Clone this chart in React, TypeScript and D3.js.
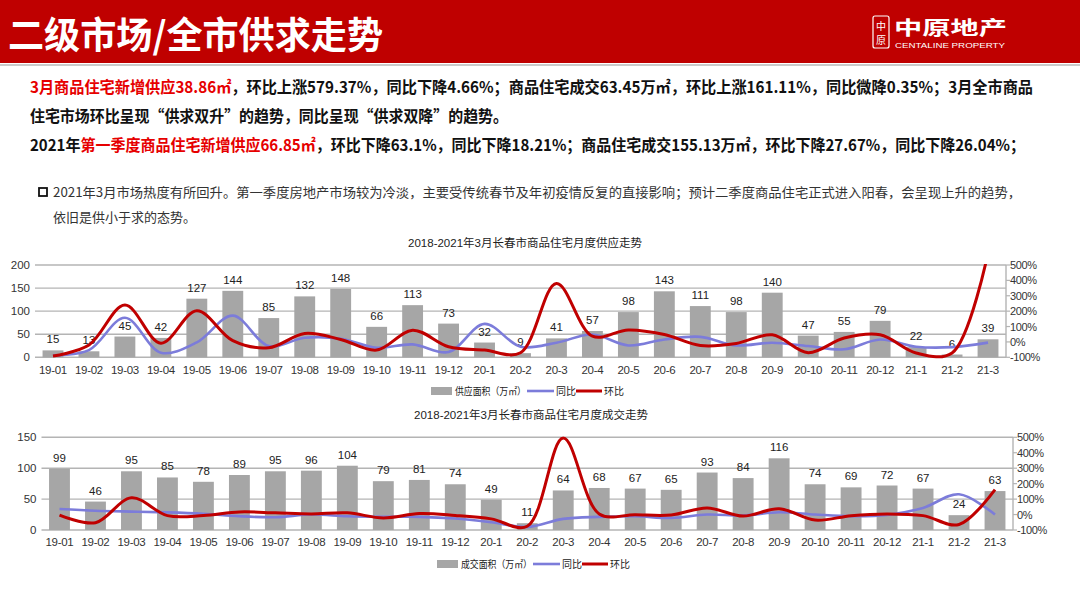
import React from "react";
import * as d3 from "d3";

const categories = [
  "19-01", "19-02", "19-03", "19-04", "19-05", "19-06", "19-07", "19-08", "19-09",
  "19-10", "19-11", "19-12", "20-1", "20-2", "20-3", "20-4", "20-5", "20-6", "20-7",
  "20-8", "20-9", "20-10", "20-11", "20-12", "21-1", "21-2", "21-3",
];

// 供应面积（万㎡）
const supplyArea = [15, 13, 45, 42, 127, 144, 85, 132, 148, 66, 113, 73, 32, 9, 41, 57, 98, 143, 111, 98, 140, 47, 55, 79, 22, 6, 39];
// 供应 同比 (%)
const supplyYoY = [-88, -53, 157, -70, -3, 171, -27, 27, 21, -38, -16, -66, 117, -31, -5, 48, -23, 16, 33, -23, -5, -27, -48, 16, -31, -34, -4.66];
// 供应 环比 (%)
const supplyMoM = [-92, -20, 240, -8, 203, 8, -38, 55, 16, -53, 76, -31, -53, -70, 380, 37, 78, 48, -23, -10, 46, -70, 25, 46, -72, -72, 579.37];

// 成交面积（万㎡）
const dealArea = [99, 46, 95, 85, 78, 89, 95, 96, 104, 79, 81, 74, 49, 11, 64, 68, 67, 65, 93, 84, 116, 74, 69, 72, 67, 24, 63];
// 成交 同比 (%)
const dealYoY = [36, 25, 19, 14, 5, -11, -17, 0, -11, -15, -15, -26, -50, -80, -28, -15, -11, -22, 0, -6, 15, 0, -11, -3, 43, 131, -0.35];
// 成交 环比 (%)
const dealMoM = [-3, -53, 109, -7, -6, 17, 11, 4, 11, -22, 6, -6, -28, -76, 495, 4, -1, -3, 43, -10, 38, -36, -7, 4, -7, -64, 161.11];

const supplyTicks = [0, 50, 100, 150, 200];
const dealTicks = [0, 50, 100, 150];
const pctTicks = [-100, 0, 100, 200, 300, 400, 500];

const RED = "#C00000";
const BLUE = "#7C7CDA";
const BAR = "#A6A6A6";
const GRID = "#B4B4B4";
const TXT = "#333333";
const NUMFONT = "'Liberation Sans', Arial, 'Noto Sans CJK SC', sans-serif";
const CJK = "'Noto Sans CJK SC', 'Liberation Sans', sans-serif";

type ChartProps = {
  clipId: string;
  title: string;
  titleX: number;
  titleY: number;
  x0: number;
  x1: number;
  yTop: number;
  yBot: number;
  leftMax: number;
  leftTicks: number[];
  bars: number[];
  yoy: number[];
  mom: number[];
  catY: number;
  legendText: string;
  legendX: number;
  legendY: number;
};

function ComboChart(p: ChartProps) {
  const x = d3
    .scaleBand<string>()
    .domain(categories)
    .range([p.x0, p.x1])
    .paddingInner(0.42)
    .paddingOuter(0.21);
  const yL = d3.scaleLinear().domain([0, p.leftMax]).range([p.yBot, p.yTop]);
  const yR = d3.scaleLinear().domain([-100, 500]).range([p.yBot, p.yTop]);
  const cx = (i: number) => (x(categories[i]) as number) + x.bandwidth() / 2;
  const lineGen = d3
    .line<number>()
    .x((_d, i) => cx(i))
    .y((d) => yR(d))
    .curve(d3.curveCatmullRom.alpha(0.5));

  const lx = p.legendX;
  const ly = p.legendY;

  return (
    <g>
      <text
        x={p.titleX}
        y={p.titleY}
        textAnchor="middle"
        fontFamily={NUMFONT}
        fontSize={11.5}
        fill="#222"
      >
        {p.title}
      </text>
      <defs>
        <clipPath id={p.clipId}>
          <rect x={p.x0} y={p.yTop - 1} width={p.x1 - p.x0} height={p.yBot - p.yTop + 4} />
        </clipPath>
      </defs>
      {p.leftTicks.map((t) => (
        <g key={"g" + t}>
          <line x1={p.x0} x2={p.x1} y1={yL(t)} y2={yL(t)} stroke={GRID} strokeWidth={1.4} />
          <text
            x={p.x0 - 5}
            y={yL(t) + 4}
            textAnchor="end"
            fontFamily={NUMFONT}
            fontSize={11.5}
            fill={TXT}
          >
            {t}
          </text>
        </g>
      ))}
      <line x1={p.x1} x2={p.x1} y1={p.yTop} y2={p.yBot} stroke={GRID} strokeWidth={1.4} />
      {pctTicks.map((t) => (
        <g key={"r" + t}>
          <line x1={p.x1} x2={p.x1 + 4} y1={yR(t)} y2={yR(t)} stroke={GRID} strokeWidth={1.2} />
          <text
            x={p.x1 + 4}
            y={yR(t) + 4}
            textAnchor="start"
            fontFamily={NUMFONT}
            fontSize={11}
            letterSpacing={-0.4}
            fill={TXT}
          >
            {t + "%"}
          </text>
        </g>
      ))}
      {p.bars.map((v, i) => (
        <g key={"b" + i}>
          <rect
            x={x(categories[i]) as number}
            y={yL(v)}
            width={x.bandwidth()}
            height={p.yBot - yL(v)}
            fill={BAR}
          />
          <text
            x={cx(i)}
            y={yL(v) - 7}
            textAnchor="middle"
            fontFamily={NUMFONT}
            fontSize={11.5}
            fill="#222"
          >
            {v}
          </text>
        </g>
      ))}
      <g clipPath={`url(#${p.clipId})`}>
        <path d={lineGen(p.yoy) || ""} fill="none" stroke={BLUE} strokeWidth={2.6} />
        <path d={lineGen(p.mom) || ""} fill="none" stroke={RED} strokeWidth={3} />
      </g>
      {categories.map((c, i) => (
        <text
          key={"c" + c}
          x={cx(i)}
          y={p.catY}
          textAnchor="middle"
          fontFamily={NUMFONT}
          fontSize={11.5}
          letterSpacing={-0.3}
          fill={TXT}
        >
          {c}
        </text>
      ))}
      <rect x={lx} y={ly - 4} width={21} height={8} fill={BAR} />
      <text x={lx + 24} y={ly + 4} fontFamily={CJK} fontSize={10} textLength={71} lengthAdjust="spacingAndGlyphs" fill="#222">
        {p.legendText}
      </text>
      <line x1={lx + 96} x2={lx + 123} y1={ly} y2={ly} stroke={BLUE} strokeWidth={2.6} />
      <text x={lx + 125} y={ly + 4} fontFamily={CJK} fontSize={10} fill="#222">
        同比
      </text>
      <line x1={lx + 145} x2={lx + 171} y1={ly} y2={ly} stroke={RED} strokeWidth={3} />
      <text x={lx + 173} y={ly + 4} fontFamily={CJK} fontSize={10} fill="#222">
        环比
      </text>
    </g>
  );
}

export default function App() {
  return (
    <svg
      width={1080}
      height={608}
      viewBox="0 0 1080 608"
      style={{ position: "absolute", left: 0, top: 0, background: "#fff" }}
    >
      <rect x={0} y={0} width={1080} height={608} fill="#fff" />
      <rect x={0} y={0} width={1080} height={63} fill="#BF0000" />
      <line x1={0} x2={1080} y1={65} y2={65} stroke="#B8B8B8" strokeWidth={1.5} />
      <text
        x={8}
        y={49}
        fontFamily={CJK}
        fontWeight={700}
        fontSize={37}
        fill="#fff"
        textLength={375}
        lengthAdjust="spacingAndGlyphs"
      >
        二级市场/全市供求走势
      </text>
      <rect x={873} y={16} width={16} height={32} rx={2} fill="none" stroke="#fff" strokeWidth={1.2} />
      <text x={881} y={30} textAnchor="middle" fontFamily={CJK} fontSize={10} fill="#fff">中</text>
      <text x={881} y={44} textAnchor="middle" fontFamily={CJK} fontSize={10} fill="#fff">原</text>
      <text
        x={894}
        y={35}
        fontFamily={CJK}
        fontWeight={700}
        fontSize={19}
        fill="#fff"
        textLength={113}
        lengthAdjust="spacingAndGlyphs"
      >
        中原地产
      </text>
      <text
        x={895}
        y={48}
        fontFamily={NUMFONT}
        fontSize={8}
        fill="#fff"
        textLength={110}
        lengthAdjust="spacingAndGlyphs"
      >
        CENTALINE PROPERTY
      </text>

      <text x={30} y={92.5} fontFamily={CJK} fontWeight={700} fontSize={16} fill="#111" textLength={1003} lengthAdjust="spacingAndGlyphs">
        <tspan fill="#E60000">3月商品住宅新增供应38.86㎡</tspan>
        <tspan>，环比上涨579.37%，同比下降4.66%；商品住宅成交63.45万㎡，环比上涨161.11%，同比微降0.35%；3月全市商品</tspan>
      </text>
      <text x={30} y={121.5} fontFamily={CJK} fontWeight={700} fontSize={16} fill="#111" textLength={478} lengthAdjust="spacingAndGlyphs">
        住宅市场环比呈现“供求双升”的趋势，同比呈现“供求双降”的趋势。
      </text>
      <text x={30} y={150.5} fontFamily={CJK} fontWeight={700} fontSize={16} fill="#111" textLength={995} lengthAdjust="spacingAndGlyphs">
        <tspan>2021年</tspan>
        <tspan fill="#E60000">第一季度商品住宅新增供应66.85㎡</tspan>
        <tspan>，环比下降63.1%，同比下降18.21%；商品住宅成交155.13万㎡，环比下降27.67%，同比下降26.04%；</tspan>
      </text>

      <rect x={39} y={188} width={8} height={8} fill="none" stroke="#111" strokeWidth={1.8} />
      <text x={53} y={196.5} fontFamily={CJK} fontSize={13} fill="#333" textLength={968} lengthAdjust="spacingAndGlyphs">
        2021年3月市场热度有所回升。第一季度房地产市场较为冷淡，主要受传统春节及年初疫情反复的直接影响；预计二季度商品住宅正式进入阳春，会呈现上升的趋势，
      </text>
      <text x={53} y={221.5} fontFamily={CJK} fontSize={13} fill="#333">
        依旧是供小于求的态势。
      </text>

      <ComboChart
        clipId="clip1"
        title="2018-2021年3月长春市商品住宅月度供应走势"
        titleX={525}
        titleY={247}
        x0={35}
        x1={1006}
        yTop={265}
        yBot={357.3}
        leftMax={200}
        leftTicks={supplyTicks}
        bars={supplyArea}
        yoy={supplyYoY}
        mom={supplyMoM}
        catY={373.5}
        legendText="供应面积（万㎡）"
        legendX={431}
        legendY={391}
      />
      <ComboChart
        clipId="clip2"
        title="2018-2021年3月长春市商品住宅月度成交走势"
        titleX={531}
        titleY={419}
        x0={41.5}
        x1={1013}
        yTop={437.3}
        yBot={530}
        leftMax={150}
        leftTicks={dealTicks}
        bars={dealArea}
        yoy={dealYoY}
        mom={dealMoM}
        catY={546}
        legendText="成交面积（万㎡）"
        legendX={437}
        legendY={564}
      />
    </svg>
  );
}
